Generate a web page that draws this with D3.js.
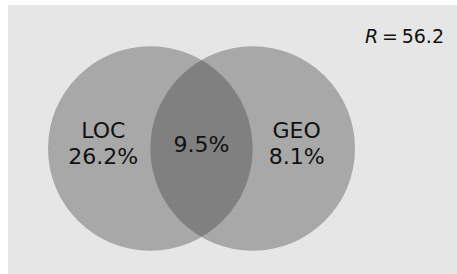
<!DOCTYPE html>
<html>
<head>
<meta charset="utf-8">
<script src="https://cdn.jsdelivr.net/npm/d3@7"></script>
<style>
  body { margin: 0; background: #fff; }
  text { font-family: "DejaVu Sans", Verdana, sans-serif; fill: #111; }
</style>
</head>
<body>
<div id="chart"></div>
<script>
// sets and their exclusive shares, plus the shared part
const setNames = ["LOC", "GEO"];
const setShares = ["26.2%", "8.1%"];
const setCenters = [-0.5, 0.5];      // circle centres, in radius units
const setLabelPos = [-0.96, 0.93];   // label anchors, in radius units
const overlapShare = "9.5%";
const statLabel = "R";
const statValue = "56.2";

const width = 457, height = 274;

const svg = d3.select("#chart").append("svg")
  .attr("width", width)
  .attr("height", height);

svg.append("rect")
  .attr("x", 8)
  .attr("y", 5)
  .attr("width", width - 8)
  .attr("height", height - 5)
  .attr("fill", "#e6e6e6");

// one unit = one circle radius
const x = d3.scaleLinear().domain([-1.5, 1.5]).range([48, 355]);
const y = d3.scaleLinear().domain([-1, 1]).range([47, 250]);
const r = x(1) - x(0);

const sets = setNames.map((name, i) => ({
  name, share: setShares[i], cx: setCenters[i], lx: setLabelPos[i]
}));

svg.selectAll("circle.set")
  .data(sets)
  .enter().append("circle")
  .attr("class", "set")
  .attr("cx", d => x(d.cx))
  .attr("cy", y(0))
  .attr("r", r)
  .attr("fill", "#373737")
  .attr("fill-opacity", 0.355);

const labels = svg.selectAll("text.set")
  .data(sets)
  .enter().append("text")
  .attr("class", "set")
  .attr("text-anchor", "middle")
  .style("font-size", "22px");

labels.append("tspan")
  .attr("x", d => x(d.lx))
  .attr("y", y(0) - 11)
  .text(d => d.name);

labels.append("tspan")
  .attr("x", d => x(d.lx))
  .attr("y", y(0) + 15)
  .text(d => d.share);

svg.append("text")
  .attr("x", x(0))
  .attr("y", y(0) + 3)
  .attr("text-anchor", "middle")
  .style("font-size", "22px")
  .text(overlapShare);

const stat = svg.append("text")
  .attr("x", 444)
  .attr("y", 43)
  .attr("text-anchor", "end")
  .style("font-size", "19px");

stat.append("tspan")
  .style("font-style", "italic")
  .text(statLabel);

stat.append("tspan")
  .text("\u2009=\u2009" + statValue);
</script>
</body>
</html>
